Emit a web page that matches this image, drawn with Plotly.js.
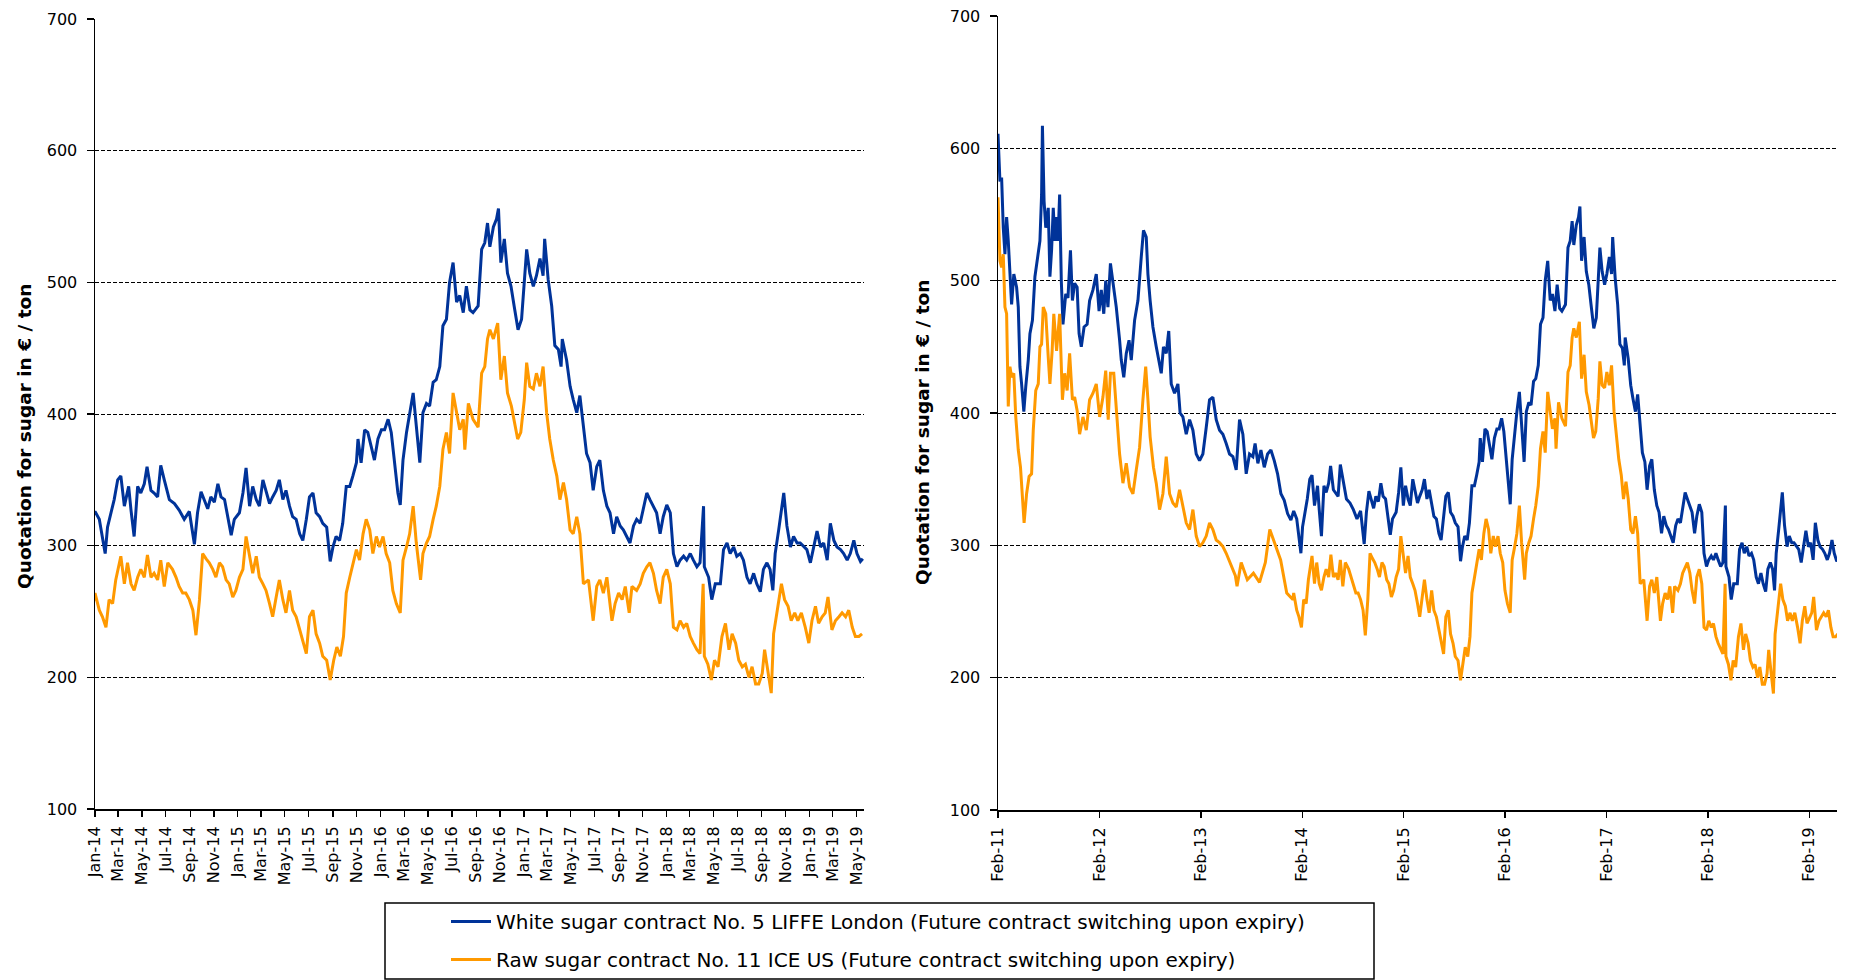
<!DOCTYPE html>
<html>
<head>
<meta charset="utf-8">
<script src="https://cdn.plot.ly/plotly-3.0.1.min.js"></script>
<style>
html,body{margin:0;padding:0;background:#fff;}
#chart{width:1849px;height:980px;}
</style>
</head>
<body>
<div id="chart"></div>
<script>
// ---- DATA ----
const seriesNames = [
  "White sugar contract No. 5 LIFFE London (Future contract switching upon expiry)",
  "Raw sugar contract No. 11 ICE US (Future contract switching upon expiry)"
];

const whiteDates = [
"2011-02-01","2011-02-08","2011-02-14","2011-02-20","2011-02-26","2011-03-04","2011-03-10","2011-03-16","2011-03-22","2011-03-30",
"2011-04-09","2011-04-15","2011-04-21","2011-04-27","2011-05-05","2011-05-12","2011-05-21","2011-05-27","2011-06-05","2011-06-14",
"2011-06-22","2011-07-02","2011-07-08","2011-07-11","2011-07-17","2011-07-23","2011-08-01","2011-08-07","2011-08-13","2011-08-19",
"2011-08-25","2011-08-31","2011-09-05","2011-09-11","2011-09-17","2011-09-23","2011-10-03","2011-10-11","2011-10-20","2011-10-27",
"2011-11-04","2011-11-13","2011-11-20","2011-11-28","2011-12-08","2011-12-19","2011-12-28","2012-01-09","2012-01-21","2012-01-31",
"2012-02-08","2012-02-17","2012-02-24","2012-03-03","2012-03-12","2012-03-21","2012-04-02","2012-04-14","2012-04-20","2012-04-29",
"2012-05-08","2012-05-18","2012-05-26","2012-06-07","2012-06-19","2012-07-01","2012-07-09","2012-07-19","2012-07-25","2012-08-02",
"2012-08-12","2012-08-24","2012-09-03","2012-09-11","2012-09-19","2012-09-29","2012-10-08","2012-10-17","2012-10-29","2012-11-10",
"2012-11-18","2012-11-28","2012-12-10","2012-12-22","2013-01-03","2013-01-15","2013-01-27","2013-02-08","2013-02-20","2013-03-04",
"2013-03-16","2013-03-28","2013-04-09","2013-04-21","2013-05-03","2013-05-15","2013-05-27","2013-06-08","2013-06-20","2013-07-02",
"2013-07-14","2013-07-26","2013-08-07","2013-08-15","2013-08-25","2013-09-05","2013-09-17","2013-09-29","2013-10-11","2013-10-23",
"2013-11-04","2013-11-16","2013-11-28","2013-12-10","2013-12-22",
"2014-01-01","2014-01-12","2014-01-20","2014-01-27","2014-02-02","2014-02-11","2014-02-19","2014-02-28","2014-03-08","2014-03-17",
"2014-03-28","2014-04-03","2014-04-11","2014-04-20","2014-04-28","2014-05-07","2014-05-14","2014-05-24","2014-06-01","2014-06-10",
"2014-06-18","2014-06-27","2014-07-10","2014-07-23","2014-08-04","2014-08-17","2014-08-30","2014-09-12","2014-09-20","2014-09-29",
"2014-10-07","2014-10-16","2014-10-24","2014-11-02","2014-11-11","2014-11-19","2014-11-28","2014-12-06","2014-12-15","2014-12-23",
"2015-01-05","2015-01-14","2015-01-22","2015-01-31","2015-02-08","2015-02-17","2015-02-25","2015-03-06","2015-03-14","2015-03-23",
"2015-03-31","2015-04-09","2015-04-17","2015-04-26","2015-05-04","2015-05-13","2015-05-21","2015-05-30","2015-06-08","2015-06-16",
"2015-06-25","2015-07-03","2015-07-12","2015-07-20","2015-07-29","2015-08-06","2015-08-16","2015-08-25","2015-09-01","2015-09-09",
"2015-09-18","2015-09-26","2015-10-05","2015-10-14","2015-10-22","2015-10-31","2015-11-04","2015-11-12","2015-11-21","2015-11-29",
"2015-12-08","2015-12-16","2015-12-25","2016-01-03","2016-01-11","2016-01-20","2016-01-28","2016-02-06","2016-02-14","2016-02-20",
"2016-02-27","2016-03-07","2016-03-15","2016-03-24","2016-04-01","2016-04-10","2016-04-18","2016-04-27","2016-05-05","2016-05-14",
"2016-05-22","2016-05-31","2016-06-08","2016-06-17","2016-06-25","2016-07-04","2016-07-13","2016-07-21","2016-07-30","2016-08-07",
"2016-08-16","2016-08-24","2016-09-06","2016-09-15","2016-09-23","2016-09-30","2016-10-06","2016-10-15","2016-10-23","2016-10-28",
"2016-11-03","2016-11-12","2016-11-20","2016-11-29","2016-12-07","2016-12-17","2016-12-26","2017-01-02","2017-01-08","2017-01-16",
"2017-01-25","2017-02-02","2017-02-11","2017-02-19","2017-02-23","2017-03-04","2017-03-13","2017-03-21","2017-03-30","2017-04-06",
"2017-04-09","2017-04-20","2017-04-29","2017-05-07","2017-05-16","2017-05-24","2017-06-02","2017-06-10","2017-06-19","2017-06-27",
"2017-07-06","2017-07-14","2017-07-23","2017-08-01","2017-08-09","2017-08-18","2017-08-26","2017-09-04","2017-09-12","2017-09-21",
"2017-09-29","2017-10-08","2017-10-16","2017-10-25","2017-11-02","2017-11-11","2017-11-19","2017-11-28","2017-12-06","2017-12-15",
"2017-12-23","2018-01-01","2018-01-10","2018-01-18","2018-01-27","2018-02-04","2018-02-13","2018-02-21","2018-03-02","2018-03-10",
"2018-03-19","2018-03-27","2018-04-05","2018-04-07","2018-04-18","2018-04-26","2018-05-05","2018-05-18","2018-05-26","2018-06-04",
"2018-06-12","2018-06-21","2018-06-29","2018-07-08","2018-07-16","2018-07-25","2018-08-02","2018-08-11","2018-08-19","2018-08-28",
"2018-09-05","2018-09-14","2018-09-22","2018-09-29","2018-10-05","2018-10-14","2018-10-21","2018-10-27","2018-11-04","2018-11-13",
"2018-11-21","2018-11-30","2018-12-08","2018-12-17","2018-12-25","2019-01-03","2019-01-11","2019-01-20","2019-01-29","2019-02-06",
"2019-02-15","2019-02-23","2019-03-04","2019-03-12","2019-03-21","2019-03-29","2019-04-07","2019-04-15","2019-04-24","2019-05-02",
"2019-05-11","2019-05-17"
];
const whiteValues = [
611,575,578,540,520,548,530,505,482,505,
495,480,435,422,401,420,440,460,470,503,
515,530,565,617,560,540,555,503,523,555,
530,548,530,565,500,467,490,487,523,485,
498,495,460,450,465,467,485,493,505,477,
493,475,500,480,513,500,480,455,440,427,
445,455,440,470,485,518,538,533,505,485,
465,450,440,430,450,445,462,422,415,422,
400,397,384,395,387,369,364,369,389,410,
412,395,387,384,377,369,367,357,395,384,
354,369,367,377,362,372,359,369,372,364,
354,339,334,324,319,
326,320,307,294,314,325,335,350,353,330,
345,327,307,345,340,347,360,342,340,337,
361,350,335,332,327,320,326,301,325,341,
335,328,337,333,347,337,335,321,308,320,
325,340,359,330,345,335,330,350,342,332,
337,342,350,335,342,330,322,320,309,304,
320,337,340,325,322,317,314,288,299,307,
304,317,345,345,353,363,381,363,388,386,
375,365,381,388,388,396,386,363,340,331,
365,386,401,416,391,363,401,408,406,424,
426,436,467,472,500,515,485,490,477,497,
479,477,482,525,530,545,527,542,548,556,
515,533,507,497,482,464,472,497,525,507,
497,505,518,505,533,502,482,452,449,436,
457,441,421,411,401,414,391,370,363,342,
360,365,342,330,325,309,322,315,312,307,
302,315,320,317,327,340,335,330,325,309,
322,331,325,294,284,289,292,289,294,289,
284,287,330,284,276,259,271,271,297,302,
294,299,292,294,289,276,271,279,271,265,
282,287,282,266,294,312,327,340,315,299,
307,302,302,299,297,287,299,311,299,302,
289,317,304,299,297,294,289,294,304,294,
288,290
];

const rawDates = [
"2011-02-01","2011-02-08","2011-02-14","2011-02-20","2011-02-26","2011-03-04","2011-03-10","2011-03-16","2011-03-22","2011-03-30",
"2011-04-06","2011-04-15","2011-04-23","2011-05-03","2011-05-06","2011-05-15","2011-05-24","2011-06-02","2011-06-08","2011-06-17",
"2011-06-26","2011-07-02","2011-07-08","2011-07-14","2011-07-23","2011-08-01","2011-08-07","2011-08-15","2011-08-21","2011-08-31",
"2011-09-11","2011-09-21","2011-09-29","2011-10-08","2011-10-17","2011-10-27","2011-11-04","2011-11-13","2011-11-22","2011-12-04",
"2011-12-16","2011-12-28","2012-01-09","2012-01-21","2012-02-02","2012-02-14","2012-02-24","2012-03-04","2012-03-12","2012-03-24",
"2012-04-02","2012-04-14","2012-04-26","2012-05-08","2012-05-20","2012-06-01","2012-06-13","2012-06-25","2012-07-07","2012-07-17",
"2012-07-25","2012-08-02","2012-08-14","2012-08-24","2012-09-05","2012-09-17","2012-09-29","2012-10-11","2012-10-23","2012-11-04",
"2012-11-16","2012-11-28","2012-12-10","2012-12-22","2013-01-03","2013-01-15","2013-01-27","2013-02-08","2013-02-20","2013-03-04",
"2013-03-16","2013-03-28","2013-04-09","2013-04-21","2013-05-03","2013-06-05","2013-06-11","2013-06-26","2013-07-18","2013-08-09",
"2013-08-31","2013-09-21","2013-10-07","2013-10-24","2013-11-15","2013-12-07","2013-12-29",
"2014-01-01","2014-01-12","2014-01-20","2014-01-29","2014-02-06","2014-02-15","2014-02-23","2014-03-08","2014-03-17","2014-03-25",
"2014-04-03","2014-04-11","2014-04-20","2014-04-28","2014-05-07","2014-05-15","2014-05-24","2014-06-01","2014-06-10","2014-06-18",
"2014-06-27","2014-07-06","2014-07-18","2014-07-27","2014-08-04","2014-08-13","2014-08-21","2014-08-30","2014-09-08","2014-09-16",
"2014-09-25","2014-10-03","2014-10-12","2014-10-20","2014-10-29","2014-11-06","2014-11-15","2014-11-23","2014-12-02","2014-12-10",
"2014-12-19","2014-12-27","2015-01-05","2015-01-14","2015-01-22","2015-01-31","2015-02-08","2015-02-17","2015-02-25","2015-03-06",
"2015-03-14","2015-03-23","2015-03-31","2015-04-09","2015-04-17","2015-04-26","2015-05-04","2015-05-13","2015-05-21","2015-05-30",
"2015-06-08","2015-06-16","2015-06-25","2015-07-03","2015-07-12","2015-07-20","2015-07-29","2015-08-06","2015-08-16","2015-08-25",
"2015-09-03","2015-09-11","2015-09-20","2015-09-28","2015-10-05","2015-10-14","2015-10-22","2015-10-31","2015-11-08","2015-11-17",
"2015-11-25","2015-12-04","2015-12-12","2015-12-21","2015-12-29","2016-01-07","2016-01-15","2016-01-24","2016-02-01","2016-02-10",
"2016-02-20","2016-02-27","2016-03-07","2016-03-15","2016-03-24","2016-04-01","2016-04-12","2016-04-18","2016-04-27","2016-05-05",
"2016-05-14","2016-05-22","2016-05-31","2016-06-08","2016-06-17","2016-06-25","2016-07-04","2016-07-13","2016-07-21","2016-07-30",
"2016-08-03","2016-08-12","2016-08-24","2016-09-06","2016-09-15","2016-09-23","2016-09-30","2016-10-06","2016-10-15","2016-10-26",
"2016-11-03","2016-11-12","2016-11-20","2016-11-30","2016-12-09","2016-12-16","2016-12-24","2017-01-02","2017-01-08","2017-01-16",
"2017-01-25","2017-02-02","2017-02-11","2017-02-19","2017-02-28","2017-03-08","2017-03-17","2017-03-26","2017-04-03","2017-04-12",
"2017-04-20","2017-04-29","2017-05-07","2017-05-16","2017-05-24","2017-06-02","2017-06-15","2017-06-27","2017-07-06","2017-07-14",
"2017-07-23","2017-08-01","2017-08-14","2017-08-22","2017-08-31","2017-09-09","2017-09-17","2017-09-27","2017-10-04","2017-10-16",
"2017-10-25","2017-11-02","2017-11-11","2017-11-19","2017-11-28","2017-12-06","2017-12-15","2017-12-23","2018-01-01","2018-01-10",
"2018-01-18","2018-01-27","2018-02-04","2018-02-13","2018-02-21","2018-03-02","2018-03-10","2018-03-19","2018-03-27","2018-04-04",
"2018-04-07","2018-04-16","2018-04-25","2018-05-03","2018-05-12","2018-05-22","2018-05-31","2018-06-09","2018-06-17","2018-06-26",
"2018-07-04","2018-07-13","2018-07-21","2018-07-30","2018-08-07","2018-08-16","2018-08-24","2018-09-02","2018-09-08","2018-09-17",
"2018-09-25","2018-10-01","2018-10-10","2018-10-21","2018-10-29","2018-11-07","2018-11-15","2018-11-24","2018-12-02","2018-12-11",
"2018-12-21","2018-12-30","2019-01-07","2019-01-16","2019-01-24","2019-02-02","2019-02-10","2019-02-17","2019-02-27","2019-03-08",
"2019-03-17","2019-03-25","2019-04-03","2019-04-11","2019-04-20","2019-04-28","2019-05-07","2019-05-15"
];
const rawValues = [
563,515,510,520,480,475,405,435,427,430,
397,372,359,319,317,339,352,354,387,417,
422,450,452,480,475,442,422,447,475,447,
475,410,430,417,445,410,412,402,384,397,
387,410,415,422,397,412,432,395,430,430,
405,369,347,362,344,339,357,374,410,435,
410,382,359,347,327,339,367,339,332,329,
342,329,317,312,327,307,299,302,307,317,
312,304,302,299,294,277,269,287,274,279,
272,287,312,302,289,264,259,
264,251,246,238,259,256,274,292,271,287,
271,266,276,282,276,293,276,279,274,289,
269,287,282,276,269,264,264,259,251,232,
259,294,290,287,282,276,287,284,274,271,
261,266,276,282,307,292,279,292,276,271,
266,256,246,261,274,259,249,266,251,246,
236,228,218,246,251,233,226,216,213,198,
213,223,216,231,264,276,287,297,289,309,
320,312,294,307,299,307,294,287,266,256,
249,289,299,309,330,302,274,294,302,307,
320,330,345,373,386,370,416,401,388,396,
373,408,396,390,431,436,457,464,457,469,
426,444,416,406,391,381,386,411,439,421,
419,431,421,436,401,381,365,353,335,348,
335,312,309,322,309,271,274,243,269,274,
264,276,243,256,264,259,269,249,269,266,
271,279,284,287,279,266,256,276,282,271,
238,236,243,238,241,231,226,221,218,271,
216,210,198,213,208,231,241,221,233,226,
213,208,210,200,208,195,195,203,221,203,
188,233,249,271,259,254,243,249,243,249,
238,226,243,254,241,246,249,261,236,243,
246,249,246,251,238,231,231,233
];

const leftTickVals = [
"2014-01-01","2014-03-01","2014-05-01","2014-07-01","2014-09-01","2014-11-01",
"2015-01-01","2015-03-01","2015-05-01","2015-07-01","2015-09-01","2015-11-01",
"2016-01-01","2016-03-01","2016-05-01","2016-07-01","2016-09-01","2016-11-01",
"2017-01-01","2017-03-01","2017-05-01","2017-07-01","2017-09-01","2017-11-01",
"2018-01-01","2018-03-01","2018-05-01","2018-07-01","2018-09-01","2018-11-01",
"2019-01-01","2019-03-01","2019-05-01"
];
const leftTickText = [
"Jan-14","Mar-14","May-14","Jul-14","Sep-14","Nov-14",
"Jan-15","Mar-15","May-15","Jul-15","Sep-15","Nov-15",
"Jan-16","Mar-16","May-16","Jul-16","Sep-16","Nov-16",
"Jan-17","Mar-17","May-17","Jul-17","Sep-17","Nov-17",
"Jan-18","Mar-18","May-18","Jul-18","Sep-18","Nov-18",
"Jan-19","Mar-19","May-19"
];
const rightTickVals = ["2011-02-01","2012-02-01","2013-02-01","2014-02-01","2015-02-01","2016-02-01","2017-02-01","2018-02-01","2019-02-01"];
const rightTickText = ["Feb-11","Feb-12","Feb-13","Feb-14","Feb-15","Feb-16","Feb-17","Feb-18","Feb-19"];
const yTickVals = [100, 200, 300, 400, 500, 600, 700];
const yTitle = "Quotation for sugar in € / ton";

// ---- STYLE / LAYOUT ----
const W = 1849, H = 980;
const px = v => v / W;
const py = v => 1 - v / H;
const BLUE = "#003399", ORANGE = "#FF9900";
const FONT = "DejaVu Sans, Verdana, sans-serif";
const LW = 3;

const traces = [
  {x: whiteDates, y: whiteValues, name: seriesNames[0], type: "scatter", mode: "lines",
   line: {color: BLUE, width: LW}, xaxis: "x", yaxis: "y", legendgroup: "a", hoverinfo: "skip"},
  {x: rawDates, y: rawValues, name: seriesNames[1], type: "scatter", mode: "lines",
   line: {color: ORANGE, width: LW}, xaxis: "x", yaxis: "y", legendgroup: "b", hoverinfo: "skip"},
  {x: whiteDates, y: whiteValues, name: seriesNames[0], type: "scatter", mode: "lines",
   line: {color: BLUE, width: LW}, xaxis: "x2", yaxis: "y2", showlegend: false, legendgroup: "a", hoverinfo: "skip"},
  {x: rawDates, y: rawValues, name: seriesNames[1], type: "scatter", mode: "lines",
   line: {color: ORANGE, width: LW}, xaxis: "x2", yaxis: "y2", showlegend: false, legendgroup: "b", hoverinfo: "skip"}
];

function xAxis(domain, range, vals, text, anchor) {
  return {
    type: "date", domain: domain, range: range, anchor: anchor,
    tickmode: "array", tickvals: vals, ticktext: text, tickangle: -90,
    ticks: "outside", ticklen: 6, tickwidth: 1.2, tickcolor: "#000",
    showline: true, linecolor: "#000", linewidth: 2,
    showgrid: false, zeroline: false,
    tickfont: {family: FONT, size: 16, color: "#000"}, ticklabelstandoff: 3,
    fixedrange: true
  };
}
function yAxis(domain, anchor) {
  return {
    domain: domain, range: [100, 700], anchor: anchor,
    tickmode: "array", tickvals: yTickVals,
    ticks: "outside", ticklen: 7, tickwidth: 1.2, tickcolor: "#000",
    showline: true, linecolor: "#000", linewidth: 1.5,
    showgrid: true, gridcolor: "#000", gridwidth: 1, griddash: "4px,2px",
    zeroline: false,
    tickfont: {family: FONT, size: 16, color: "#000"}, ticklabelstandoff: 6,
    fixedrange: true
  };
}

const layout = {
  width: W, height: H, autosize: false,
  margin: {l: 0, r: 0, t: 0, b: 0, pad: 0},
  paper_bgcolor: "#fff", plot_bgcolor: "#fff",
  font: {family: FONT, color: "#000"},
  showlegend: true,
  legend: {
    x: px(446), y: py(902), xanchor: "left", yanchor: "top",
    bgcolor: "rgba(0,0,0,0)", borderwidth: 0,
    font: {family: FONT, size: 20, color: "#000"},
    itemwidth: 40, traceorder: "grouped", tracegroupgap: 9
  },
  xaxis: xAxis([px(95), px(864)], ["2014-01-01", "2019-05-20"], leftTickVals, leftTickText, "y"),
  yaxis: yAxis([py(809), py(19)], "x"),
  xaxis2: xAxis([px(998), px(1837)], ["2011-02-01", "2019-05-12"], rightTickVals, rightTickText, "y2"),
  yaxis2: yAxis([py(810), py(16)], "x2"),
  shapes: [
    {type: "rect", xref: "paper", yref: "paper", x0: px(385), x1: px(1374), y0: py(979), y1: py(903),
     line: {color: "#000", width: 1.5}, fillcolor: "rgba(0,0,0,0)"}
  ],
  annotations: [
    {text: "<b>" + yTitle + "</b>", xref: "paper", yref: "paper", x: px(24), y: py(437),
     xanchor: "center", yanchor: "middle", textangle: -90, showarrow: false,
     font: {family: FONT, size: 18.5, color: "#000"}},
    {text: "<b>" + yTitle + "</b>", xref: "paper", yref: "paper", x: px(922), y: py(433),
     xanchor: "center", yanchor: "middle", textangle: -90, showarrow: false,
     font: {family: FONT, size: 18.5, color: "#000"}}
  ]
};

Plotly.newPlot("chart", traces, layout, {displayModeBar: false, staticPlot: true});
</script>
</body>
</html>
